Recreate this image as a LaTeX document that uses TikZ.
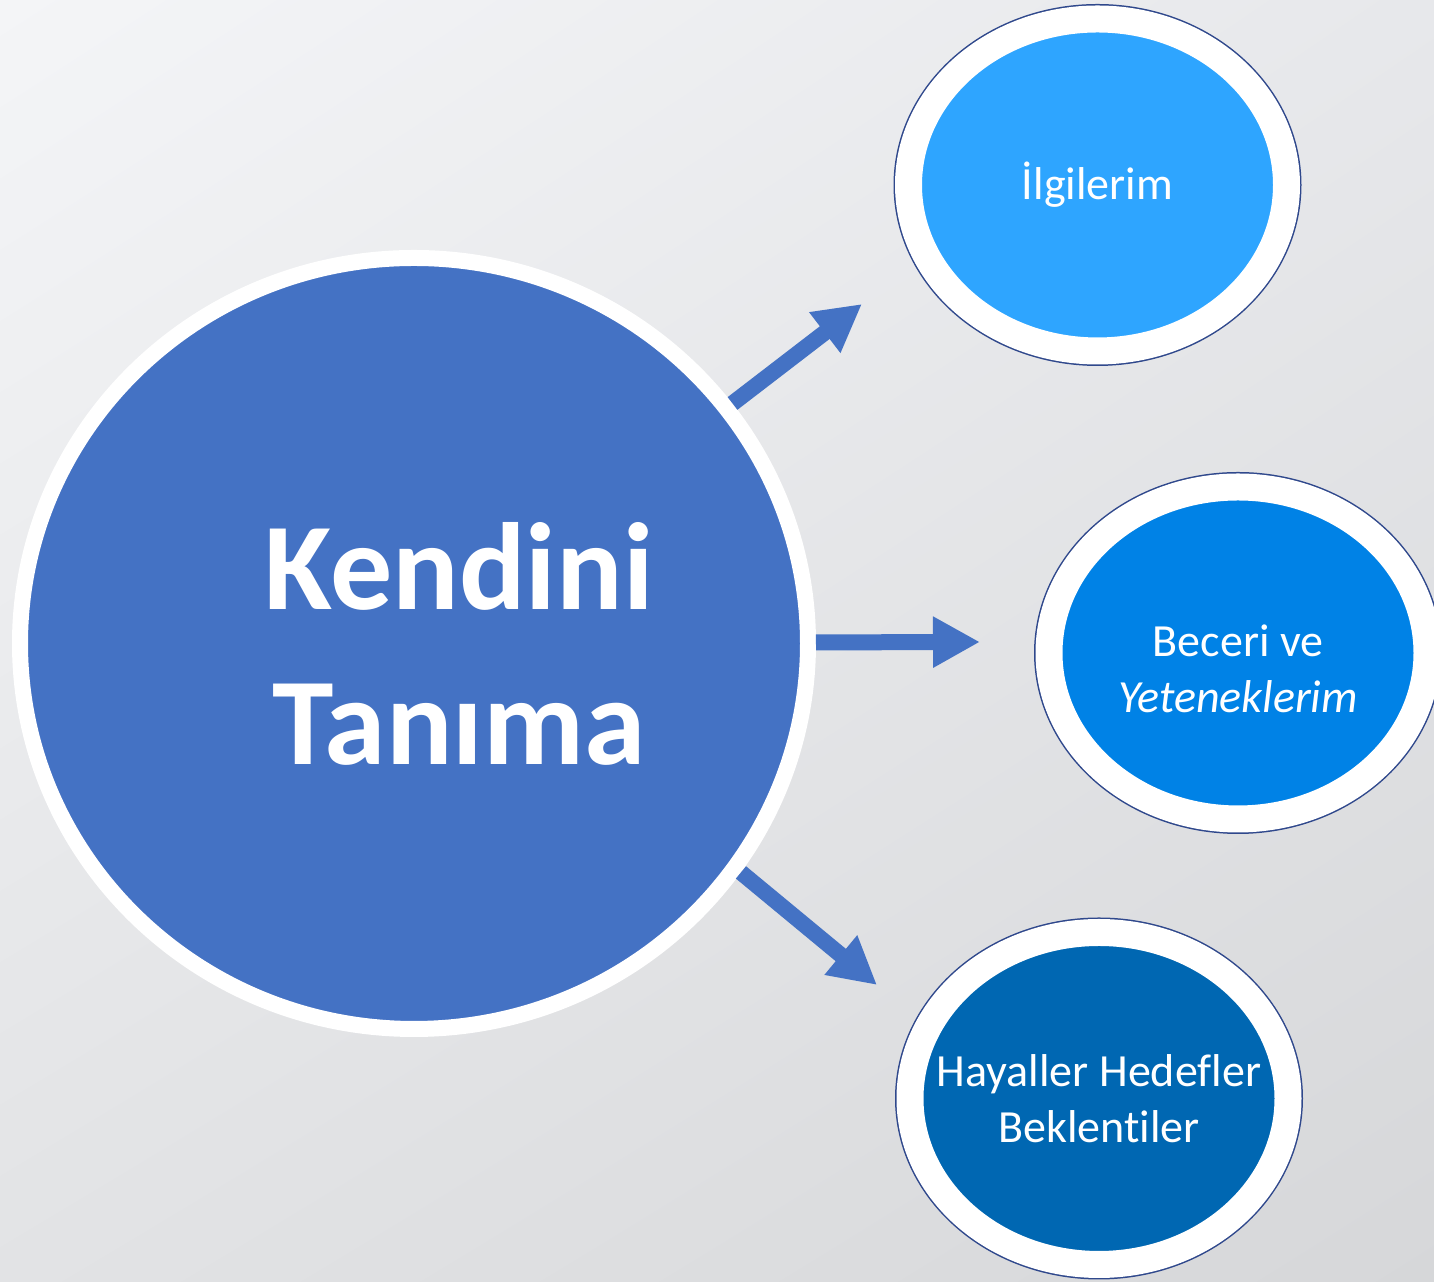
\documentclass[tikz,border=0pt]{standalone}
\usepackage{fontspec}
\setmainfont[Ligatures={NoCommon, NoDiscretionary, NoRare}]{Carlito}
\definecolor{mainblue}{RGB}{68, 114, 196}
\definecolor{skyblue}{RGB}{46, 165, 255}
\definecolor{midblue}{RGB}{0, 130, 230}
\definecolor{deepblue}{RGB}{0, 103, 178}
\definecolor{ringnavy}{RGB}{47, 72, 140}
\definecolor{bgtl}{RGB}{244, 245, 247}
\definecolor{bgtr}{RGB}{231, 232, 235}
\definecolor{bgbl}{RGB}{226, 227, 229}
\definecolor{bgbr}{RGB}{214, 215, 217}
\usetikzlibrary{shapes.geometric, arrows.meta, positioning, calc, shadings}

\begin{document}
\begin{tikzpicture}[
  sat/.style={ellipse, draw=white, line width=0.27cm, preaction={draw=ringnavy, line width=0.30cm}, minimum width=3.78cm, minimum height=3.32cm, inner sep=0pt},
  sattext/.style={text=white, align=center, font=\fontsize{13.1}{15.9}\selectfont},
  bigarrow/.style={-{Triangle[length=0.47cm, width=0.48cm]}, line width=0.16cm, mainblue}
]
  % Background
  \useasboundingbox (0,0) rectangle (14.34,12.82);
  \shade[upper left=bgtl, upper right=bgtr, lower left=bgbl, lower right=bgbr] (0,0) rectangle (14.34,12.82);

  % Centre circle
  \node[ellipse, fill=mainblue, draw=white, line width=0.16cm, minimum width=7.88cm, minimum height=7.71cm, inner sep=0pt] (self) at (4.14, 6.385) {};
  \node[text=white, align=center, font=\fontsize{35.3}{44.1}\selectfont\bfseries] (selftext) at (4.59, 6.385) {Kendini\\Tanıma};

  % Interests
  \node[sat, fill=skyblue] (interest) at (10.975, 10.97) {};
  \node[sattext] (interesttext) at (interest.center) {İlgilerim};

  % Skills
  \node[sat, fill=midblue] (skill) at (12.38, 6.29) {};
  \node[sattext] (skilltext) at ([yshift=-0.16cm]skill.center) {Beceri ve\\\textit{Yeteneklerim}};

  % Dreams
  \node[sat, fill=deepblue] (dream) at (10.99, 1.835) {};
  \node[sattext] (dreamtext) at (dream.center) {Hayaller Hedefler\\Beklentiler};

  % Arrows
  \coordinate (tipA) at (8.62, 9.78);
  \coordinate (tipB) at (9.80, 6.40);
  \coordinate (tipC) at (8.77, 2.97);
  \draw[bigarrow] (self.37) -- (tipA);
  \draw[bigarrow] (self) -- (tipB);
  \draw[bigarrow] (self.-35) -- (tipC);
\end{tikzpicture}
\end{document}
